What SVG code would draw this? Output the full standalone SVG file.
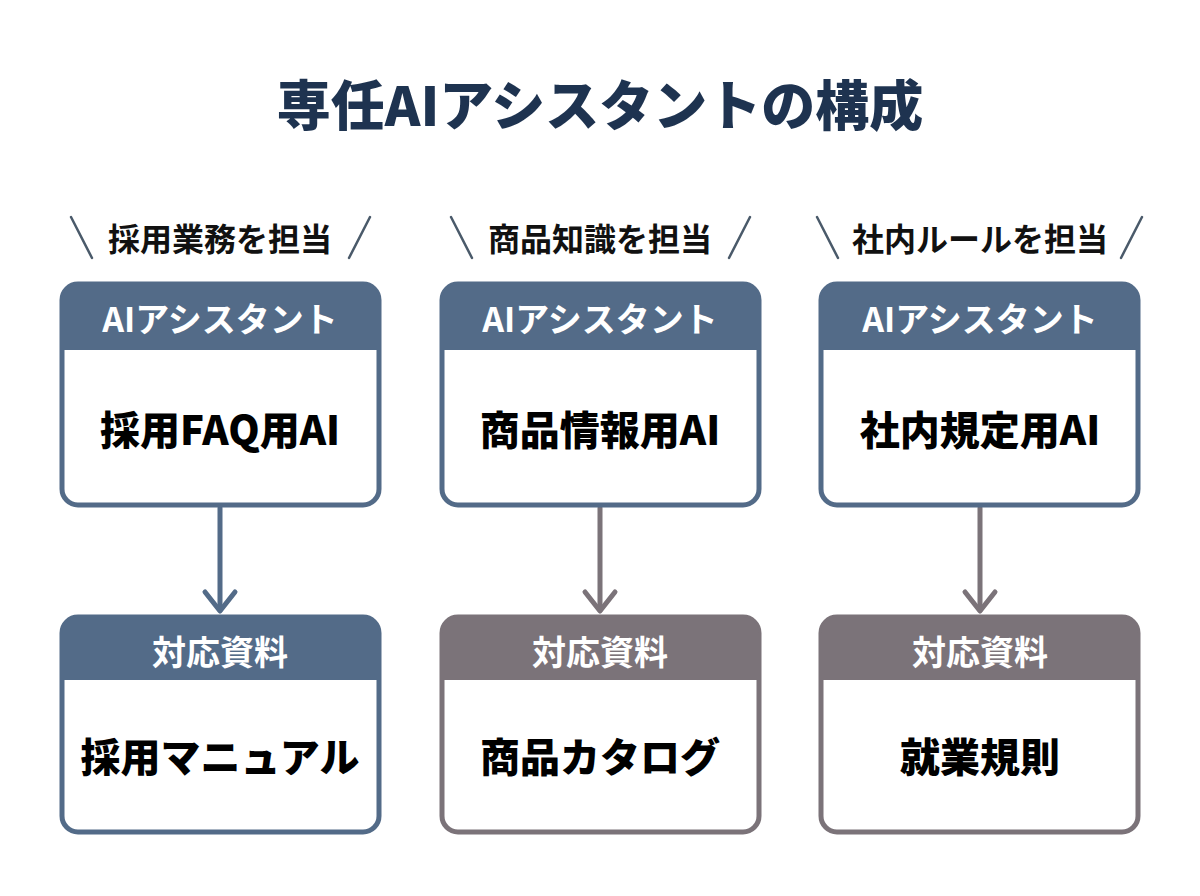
<svg xmlns="http://www.w3.org/2000/svg" width="1200" height="896" viewBox="0 0 1200 896">
<style>
text{font-family:"Noto Sans CJK JP","Noto Sans",sans-serif;font-weight:900;text-anchor:middle;dominant-baseline:central}
.title{font-size:54px;fill:#1e3350}
.lbl{font-size:32px;fill:#111;font-weight:700}
.hd{font-size:34px;fill:#fff;font-weight:700}
.body{font-size:40px;fill:#000}
.slash{stroke:#4a5a6a;stroke-width:2.5;stroke-linecap:round}
.blue .frame{stroke:#536b88}
.blue .head{fill:#536b88}
.gray .frame{stroke:#7b7379}
.gray .head{fill:#7b7379}
.frame{fill:#fff;stroke-width:5}
</style>
<rect width="1200" height="896" fill="#fff"/>
<text class="title" x="600" y="102">専任AIアシスタントの構成</text>

<g id="label1"><line class="slash" x1="71" y1="217" x2="92" y2="258"/><line class="slash" x1="370" y1="217" x2="349" y2="258"/><text class="lbl" x="220" y="237">採用業務を担当</text></g>
<g id="label2"><line class="slash" x1="451" y1="217" x2="472" y2="258"/><line class="slash" x1="750" y1="217" x2="729" y2="258"/><text class="lbl" x="600" y="237">商品知識を担当</text></g>
<g id="label3"><line class="slash" x1="817" y1="217" x2="838" y2="258"/><line class="slash" x1="1142" y1="217" x2="1121" y2="258"/><text class="lbl" x="980" y="237">社内ルールを担当</text></g>

<g id="connectors" fill="none" stroke-width="5" stroke-linecap="round" stroke-linejoin="round">
<path d="M220 508 V610" stroke="#536b88"/><path d="M205 592 L220 611 L235 592" stroke="#536b88"/>
<path d="M600 508 V610" stroke="#7b7379"/><path d="M585 592 L600 611 L615 592" stroke="#7b7379"/>
<path d="M980 508 V610" stroke="#7b7379"/><path d="M965 592 L980 611 L995 592" stroke="#7b7379"/>
</g>

<g id="ai1" class="blue"><rect class="frame" x="62" y="284" width="317" height="221" rx="16"/><path class="head" d="M78 284 H363 A16 16 0 0 1 379 300 V350 H62 V300 A16 16 0 0 1 78 284 Z"/><text class="hd" x="220" y="317">AIアシスタント</text><text class="body" x="220" y="428">採用FAQ用AI</text></g>
<g id="ai2" class="blue"><rect class="frame" x="442" y="284" width="317" height="221" rx="16"/><path class="head" d="M458 284 H743 A16 16 0 0 1 759 300 V350 H442 V300 A16 16 0 0 1 458 284 Z"/><text class="hd" x="600" y="317">AIアシスタント</text><text class="body" x="600" y="428">商品情報用AI</text></g>
<g id="ai3" class="blue"><rect class="frame" x="821" y="284" width="317" height="221" rx="16"/><path class="head" d="M837 284 H1122 A16 16 0 0 1 1138 300 V350 H821 V300 A16 16 0 0 1 837 284 Z"/><text class="hd" x="980" y="317">AIアシスタント</text><text class="body" x="980" y="428">社内規定用AI</text></g>

<g id="doc1" class="blue"><rect class="frame" x="62" y="617" width="317" height="215" rx="16"/><path class="head" d="M78 617 H363 A16 16 0 0 1 379 633 V680 H62 V633 A16 16 0 0 1 78 617 Z"/><text class="hd" x="220" y="650">対応資料</text><text class="body" x="220" y="755">採用マニュアル</text></g>
<g id="doc2" class="gray"><rect class="frame" x="442" y="617" width="317" height="215" rx="16"/><path class="head" d="M458 617 H743 A16 16 0 0 1 759 633 V680 H442 V633 A16 16 0 0 1 458 617 Z"/><text class="hd" x="600" y="650">対応資料</text><text class="body" x="600" y="755">商品カタログ</text></g>
<g id="doc3" class="gray"><rect class="frame" x="821" y="617" width="317" height="215" rx="16"/><path class="head" d="M837 617 H1122 A16 16 0 0 1 1138 633 V680 H821 V633 A16 16 0 0 1 837 617 Z"/><text class="hd" x="980" y="650">対応資料</text><text class="body" x="980" y="755">就業規則</text></g>
</svg>
